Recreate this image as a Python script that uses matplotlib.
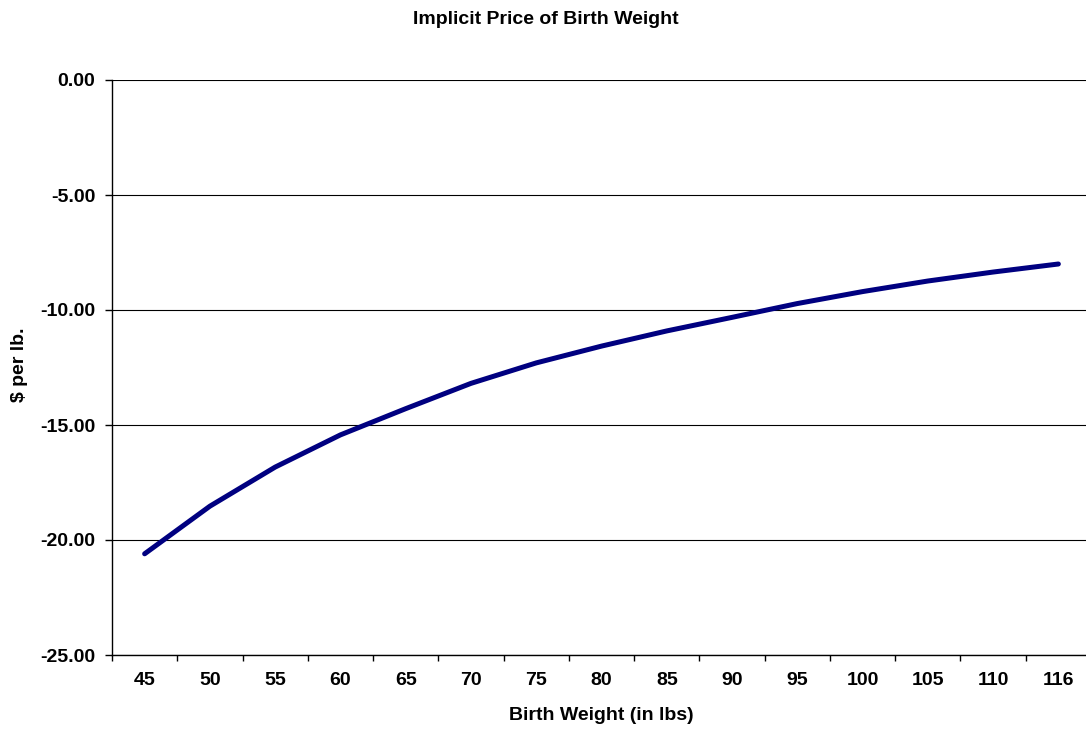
import numpy as np
import matplotlib
matplotlib.use("Agg")
import matplotlib.pyplot as plt
from matplotlib.ticker import FixedLocator, FixedFormatter

plt.rcParams['font.family'] = ['Liberation Sans', 'DejaVu Sans']
plt.rcParams['font.weight'] = 'bold'

# birth weight categories and implicit price ($ per lb.)
weights = ['45', '50', '55', '60', '65', '70', '75', '80', '85', '90',
           '95', '100', '105', '110', '116']
price = [-20.6, -18.53, -16.83, -15.43, -14.29, -13.19, -12.30, -11.57, -10.91,
         -10.32, -9.72, -9.20, -8.74, -8.35, -8.0]
y_ticks = [0, -5, -10, -15, -20, -25]

W, H = 1086, 732
fig = plt.figure(figsize=(W / 100, H / 100), dpi=100)
left, right, top, bottom = 112, 1091, 80, 655
ax = fig.add_axes([left / W, 1 - bottom / H, (right - left) / W, (bottom - top) / H])

x = np.arange(len(weights))
ax.plot(x, price, color='#000080', linewidth=3.6, solid_capstyle='round',
        solid_joinstyle='round', zorder=3)

ax.set_xlim(-0.5, len(weights) - 0.5)
ax.set_ylim(-25, 0)

# category labels centred, tick marks between categories
ax.xaxis.set_major_locator(FixedLocator(x))
ax.xaxis.set_major_formatter(FixedFormatter(weights))
ax.xaxis.set_minor_locator(FixedLocator(np.arange(-0.5, len(weights), 1.0)))
ax.tick_params(axis='x', which='major', length=0, pad=12, labelsize=14)
ax.tick_params(axis='x', which='minor', length=4, width=1, direction='out')

ax.set_yticks(y_ticks)
ax.set_yticklabels([f'{v:.2f}' for v in y_ticks])
ax.tick_params(axis='y', length=5, width=1, pad=7, labelsize=14)

ax.yaxis.grid(True, color='black', linewidth=0.8)
ax.set_axisbelow(True)
for s in ['top', 'right']:
    ax.spines[s].set_visible(False)
for s in ['left', 'bottom']:
    ax.spines[s].set_linewidth(1)

fig.text(546 / W, 1 - 19 / H, 'Implicit Price of Birth Weight', ha='center', va='center',
         fontsize=14, fontweight='bold')
fig.text(601 / W, 1 - 716 / H, 'Birth Weight (in lbs)', ha='center', va='center',
         fontsize=14, fontweight='bold')
fig.text(19 / W, 1 - 365 / H, '$ per lb.', ha='center', va='center', rotation=90,
         fontsize=14, fontweight='bold')

fig.savefig('out.png', dpi=100)
